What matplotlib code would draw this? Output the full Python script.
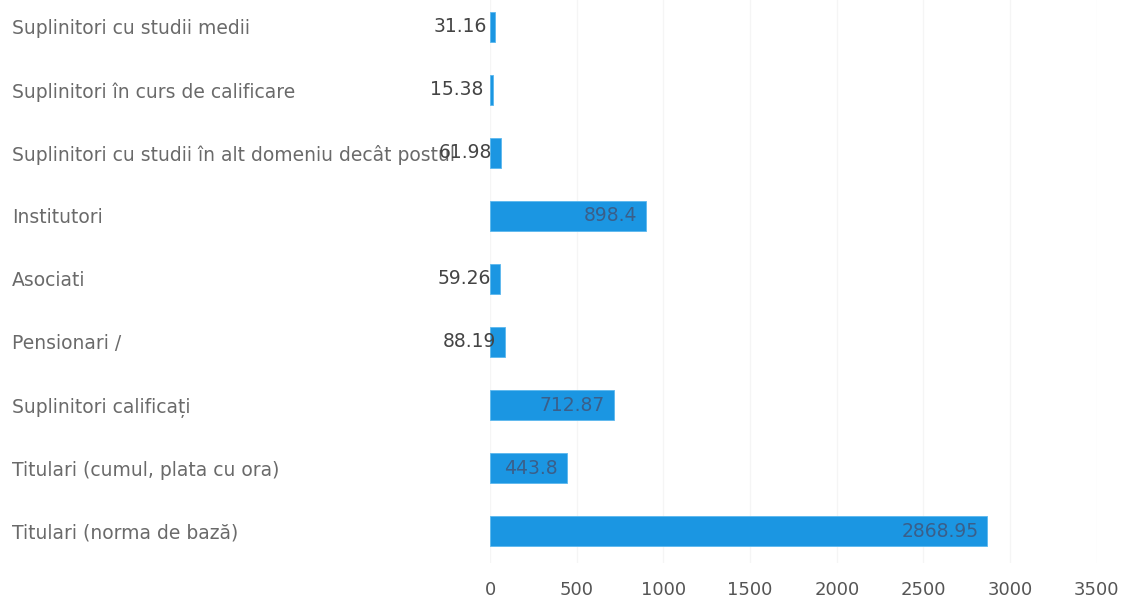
import matplotlib.pyplot as plt
from matplotlib.transforms import offset_copy

# rows from bottom to top
categorii = [
    "Titulari (norma de bază)",
    "Titulari (cumul, plata cu ora)",
    "Suplinitori calificați",
    "Pensionari /",
    "Asociati",
    "Institutori",
    "Suplinitori cu studii în alt domeniu decât postul",
    "Suplinitori în curs de calificare",
    "Suplinitori cu studii medii",
]
valori = [2868.95, 443.8, 712.87, 88.19, 59.26, 898.4, 61.98, 15.38, 31.16]
x_ticks = [0, 500, 1000, 1500, 2000, 2500, 3000, 3500]

plt.rcParams['font.family'] = ['DejaVu Sans']

fig = plt.figure(figsize=(11.25, 6.02), dpi=100)
ax = fig.add_axes([0.4356, 0.0656, 0.975 - 0.4356, 1.0075 - 0.0656])

y = list(range(len(categorii)))
ax.barh(y, valori, height=0.48, color="#1B96E2", edgecolor="#5BB8EE", linewidth=0.6, zorder=3)

ax.set_xlim(0, 3500)
ax.set_ylim(-0.5, 8.5)
ax.set_xticks(x_ticks)
ax.set_xticklabels([str(t) for t in x_ticks], fontsize=13, color="#555555")
ax.set_yticks(y)
ax.set_yticklabels(categorii, fontsize=13.5, color="#6a6a6a", ha="left")
ax.tick_params(axis="y", length=0, pad=344)
ax.tick_params(axis="x", length=0, pad=13)
for s in ax.spines.values():
    s.set_visible(False)
ax.grid(axis="x", color="#f5f5f5", linewidth=1, zorder=0)

# value labels, right-aligned just inside the bar end
for yi, v in zip(y, valori):
    tr = offset_copy(ax.transData, fig=fig, x=-9, y=0, units="dots")
    col = "#3a5f8a" if v > 300 else "#444444"
    ax.text(v, yi, f"{v:g}", transform=tr, ha="right", va="center",
            fontsize=13.5, color=col, zorder=4)

fig.savefig("out.png", dpi=100)
